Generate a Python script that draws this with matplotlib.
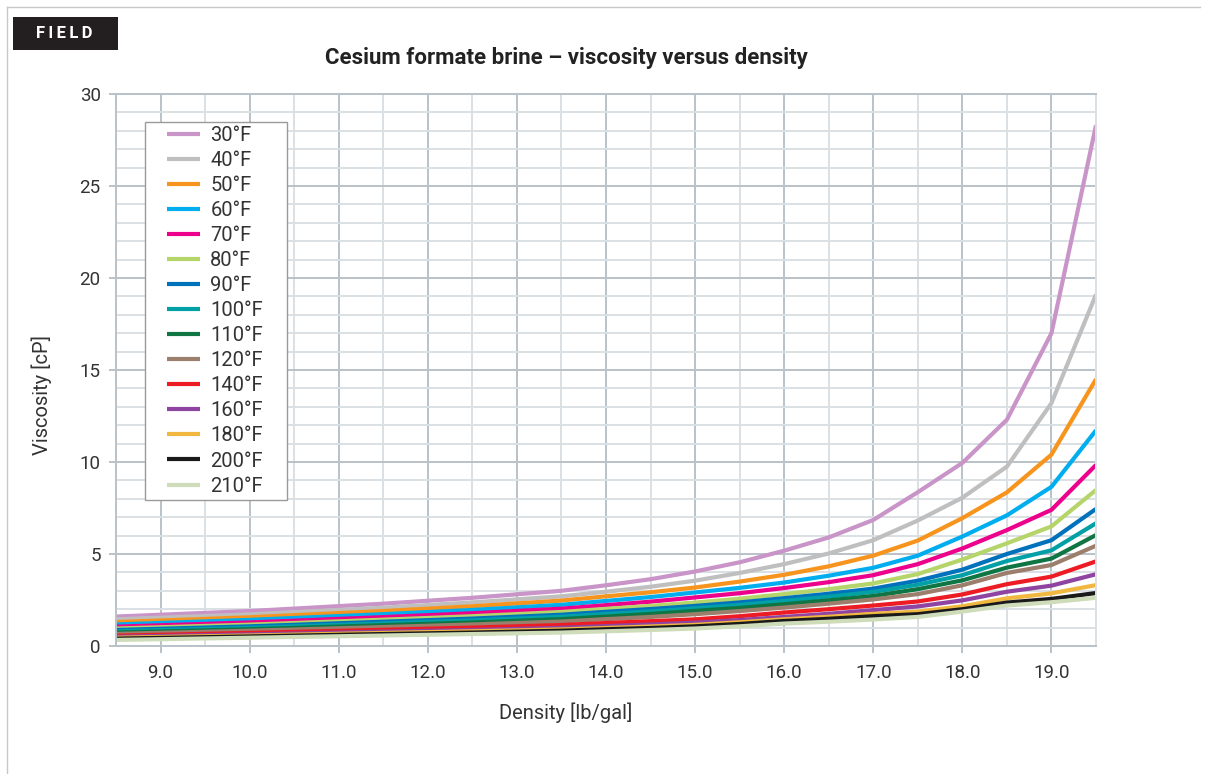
"""Cesium formate brine - viscosity versus density (field units)."""

import matplotlib.pyplot as plt
from matplotlib.lines import Line2D
from matplotlib.patches import Rectangle
from matplotlib.ticker import MultipleLocator, FormatStrFormatter

plt.rcParams["font.family"] = ["Roboto", "DejaVu Sans"]

# density [lb/gal]
density = [8.5, 10.0, 11.5, 12.5, 13.5, 14.0, 14.5, 15.0, 15.5,
           16.0, 16.5, 17.0, 17.5, 18.0, 18.5, 19.0, 19.5]

# viscosity [cP], one list per temperature
visc_30 = [1.60, 1.90, 2.30, 2.62, 3.00, 3.30, 3.63, 4.05, 4.55,
           5.18, 5.90, 6.85, 8.36, 9.95, 12.3, 17.0, 28.3]
visc_40 = [1.45, 1.72, 2.08, 2.37, 2.70, 2.95, 3.22, 3.55, 3.97,
           4.45, 5.03, 5.75, 6.82, 8.06, 9.75, 13.2, 19.1]
visc_50 = [1.30, 1.56, 1.90, 2.16, 2.47, 2.70, 2.92, 3.18, 3.50,
           3.87, 4.33, 4.91, 5.73, 6.95, 8.35, 10.4, 14.5]
visc_60 = [1.17, 1.42, 1.73, 1.96, 2.24, 2.45, 2.66, 2.91, 3.16,
           3.45, 3.82, 4.25, 4.91, 5.95, 7.10, 8.65, 11.72]
visc_70 = [1.05, 1.28, 1.57, 1.78, 2.03, 2.22, 2.41, 2.64, 2.87,
           3.15, 3.47, 3.85, 4.45, 5.30, 6.30, 7.40, 9.84]
visc_80 = [0.95, 1.16, 1.43, 1.62, 1.85, 2.02, 2.18, 2.36, 2.57,
           2.82, 3.09, 3.40, 3.91, 4.70, 5.58, 6.50, 8.48]
visc_90 = [0.87, 1.07, 1.32, 1.49, 1.70, 1.86, 2.01, 2.18, 2.37,
           2.60, 2.84, 3.12, 3.55, 4.15, 5.00, 5.75, 7.45]
visc_100 = [0.80, 0.99, 1.23, 1.39, 1.59, 1.74, 1.88, 2.05, 2.23,
            2.45, 2.68, 2.94, 3.33, 3.85, 4.62, 5.20, 6.67]
visc_110 = [0.73, 0.91, 1.13, 1.28, 1.46, 1.60, 1.74, 1.91, 2.07,
            2.27, 2.48, 2.72, 3.09, 3.57, 4.26, 4.75, 6.03]
visc_120 = [0.66, 0.83, 1.03, 1.17, 1.33, 1.46, 1.58, 1.73, 1.90,
            2.09, 2.30, 2.53, 2.82, 3.30, 3.97, 4.40, 5.45]
visc_140 = [0.56, 0.71, 0.88, 1.00, 1.14, 1.25, 1.35, 1.45, 1.62,
            1.82, 2.00, 2.20, 2.42, 2.80, 3.36, 3.77, 4.60]
visc_160 = [0.50, 0.63, 0.78, 0.87, 0.99, 1.08, 1.17, 1.27, 1.41,
            1.58, 1.75, 1.95, 2.15, 2.48, 2.95, 3.28, 3.90]
visc_180 = [0.45, 0.57, 0.71, 0.80, 0.90, 0.98, 1.06, 1.15, 1.29,
            1.45, 1.59, 1.75, 1.87, 2.16, 2.59, 2.86, 3.31]
visc_200 = [0.40, 0.52, 0.65, 0.73, 0.83, 0.91, 0.98, 1.07, 1.20,
            1.36, 1.48, 1.62, 1.73, 2.00, 2.36, 2.56, 2.88]
visc_210 = [0.33, 0.45, 0.57, 0.65, 0.73, 0.80, 0.87, 0.95, 1.07,
            1.22, 1.32, 1.44, 1.58, 1.87, 2.20, 2.38, 2.62]

labels = ["30°F", "40°F", "50°F", "60°F", "70°F", "80°F", "90°F", "100°F",
          "110°F", "120°F", "140°F", "160°F", "180°F", "200°F", "210°F"]
series = [visc_30, visc_40, visc_50, visc_60, visc_70, visc_80, visc_90,
          visc_100, visc_110, visc_120, visc_140, visc_160, visc_180,
          visc_200, visc_210]
colors = ["#c994c7", "#bfbfbf", "#f7941d", "#00aeef", "#ec008c", "#b5d56a",
          "#0072bc", "#00a0a6", "#0f7543", "#9b7e6b", "#ed1c24", "#8e44a0",
          "#f0b841", "#1a1a1a", "#cfdcb9"]

MAJOR_GRID = "#b9c2c8"
MINOR_GRID = "#d9e0e4"
TEXT = "#333333"
W, H = 1210, 774

fig = plt.figure(figsize=(W / 100, H / 100), dpi=100)

# outer frame and FIELD badge
fig.add_artist(Line2D([7 / W, 1200 / W], [1 - 7 / H, 1 - 7 / H],
                      color="#c8c8c8", lw=1.0))
fig.add_artist(Line2D([7 / W, 7 / W], [0, 1 - 7 / H],
                      color="#c8c8c8", lw=1.0))
fig.add_artist(Rectangle((13 / W, 1 - 50 / H), 105 / W, 33 / H,
                         facecolor="#231f20", edgecolor="none"))
fig.text(64 / W, 1 - 34 / H, "F\u2009I\u2009E\u2009L\u2009D",
         color="white", fontsize=12, fontweight="bold",
         ha="center", va="center")

fig.text(566 / W, 1 - 58 / H,
         "Cesium formate brine \u2013 viscosity versus density",
         fontsize=16, fontweight="bold", color="#222222",
         ha="center", va="center")

ax_left, ax_right, ax_top, ax_bottom = 116, 1096, 94, 646
ax = fig.add_axes([ax_left / W, 1 - ax_bottom / H,
                   (ax_right - ax_left) / W, (ax_bottom - ax_top) / H])

for vals, col, lab in zip(series, colors, labels):
    ax.plot(density, vals, color=col, lw=3.0, label=lab,
            solid_joinstyle="round", solid_capstyle="butt")

ax.set_xlim(8.5, 19.5)
ax.set_ylim(0, 30)
ax.xaxis.set_major_locator(MultipleLocator(1.0))
ax.xaxis.set_minor_locator(MultipleLocator(0.5))
ax.yaxis.set_major_locator(MultipleLocator(5))
ax.yaxis.set_minor_locator(MultipleLocator(1))
ax.xaxis.set_major_formatter(FormatStrFormatter("%.1f"))

ax.grid(True, which="major", color=MAJOR_GRID, lw=1.4, zorder=0)
ax.grid(True, which="minor", color=MINOR_GRID, lw=1.4, zorder=0)
ax.set_axisbelow(True)

for side in ["left", "bottom", "top"]:
    ax.spines[side].set_color(MAJOR_GRID)
    ax.spines[side].set_linewidth(1.4)
ax.spines["right"].set_color(MINOR_GRID)
ax.spines["right"].set_linewidth(1.4)

ax.tick_params(axis="both", which="major", direction="out", length=5,
               width=1.4, color=MAJOR_GRID, labelcolor=TEXT, labelsize=13.5)
ax.tick_params(axis="x", which="major", pad=8)
ax.tick_params(axis="y", which="major", pad=6)
ax.tick_params(axis="both", which="minor", length=0)

fig.text(566 / W, 1 - 713 / H, "Density [lb/gal]", fontsize=14.5,
         color=TEXT, ha="center", va="center")
fig.text(42 / W, 1 - 395 / H, "Viscosity [cP]", fontsize=14.5,
         color=TEXT, ha="center", va="center", rotation=90)


def to_axes(px, py):
    return ((px - ax_left) / (ax_right - ax_left),
            (ax_bottom - py) / (ax_bottom - ax_top))


# legend box drawn separately so the inner padding matches the original
x0, y0 = to_axes(145, 500)
x1, y1 = to_axes(287, 122)
ax.add_patch(Rectangle((x0, y0), x1 - x0, y1 - y0, transform=ax.transAxes,
                       facecolor="white", edgecolor="#9a9a9a", lw=1.0,
                       zorder=4))
leg = ax.legend(loc="upper left", bbox_to_anchor=to_axes(167, 126),
                borderaxespad=0, borderpad=0, fontsize=14.5, frameon=False,
                handlelength=1.65, handletextpad=0.5, labelspacing=0.30,
                labelcolor=TEXT)
leg.set_zorder(5)

fig.savefig("out.png", dpi=100)
